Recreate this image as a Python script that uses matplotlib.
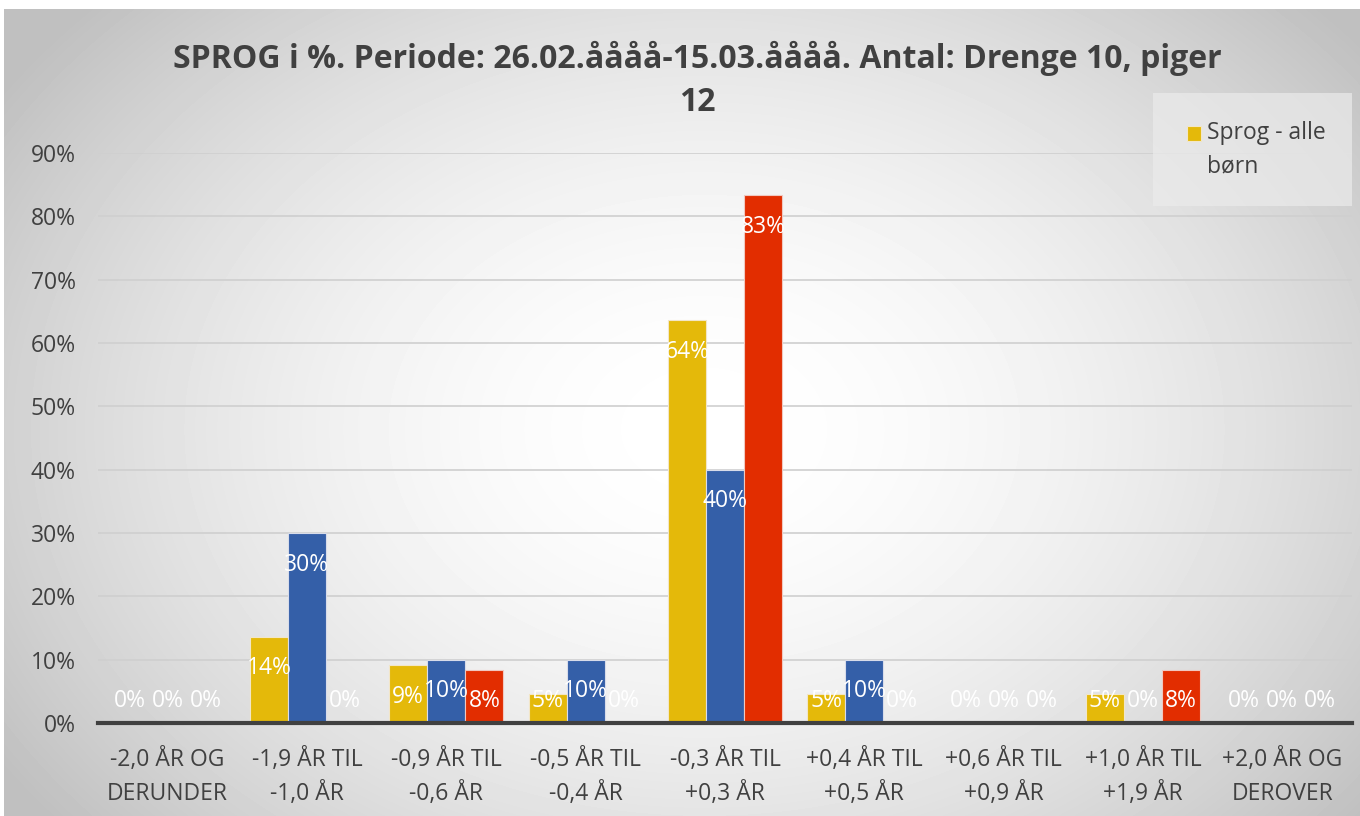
import numpy as np
import matplotlib.pyplot as plt
from matplotlib.patches import Rectangle

plt.rcParams['font.family'] = ['Open Sans', 'DejaVu Sans']

# categories (age deviation groups)
categories = ['-2,0 ÅR OG\nDERUNDER', '-1,9 ÅR TIL\n-1,0 ÅR', '-0,9 ÅR TIL\n-0,6 ÅR',
              '-0,5 ÅR TIL\n-0,4 ÅR', '-0,3 ÅR TIL\n+0,3 ÅR', '+0,4 ÅR TIL\n+0,5 ÅR',
              '+0,6 ÅR TIL\n+0,9 ÅR', '+1,0 ÅR TIL\n+1,9 ÅR', '+2,0 ÅR OG\nDEROVER']
# percent values per series
alle = [0, 13.64, 9.09, 4.55, 63.64, 4.55, 0, 4.55, 0]
drenge = [0, 30, 10, 10, 40, 10, 0, 0, 0]
piger = [0, 0, 8.33, 0, 83.33, 0, 0, 8.33, 0]
yticks = [0, 10, 20, 30, 40, 50, 60, 70, 80, 90]

title = 'SPROG i %. Periode: 26.02.åååå-15.03.åååå. Antal: Drenge 10, piger\n12'
legend_label = 'Sprog - alle\nbørn'

colors = ['#E4B90A', '#345FA8', '#E22D00']
edges = ['#F2E6C8', '#D8DCEA', '#F0C8C0']
textcol = '#404040'
fs = 16.5

fig = plt.figure(figsize=(13.6, 8.16), dpi=100)

# radial gradient background
bg = fig.add_axes([0.003, 0, 0.997, 1 - 9 / 816], zorder=-5)
yy, xx = np.mgrid[0:807, 0:1356]
r = np.sqrt(((xx - 700) / 700.0) ** 2 + ((yy - 420) / 520.0) ** 2)
shade = 1 - 0.25 * np.clip(r / 1.2, 0, 1) ** 1.8
bg.imshow(shade, cmap='gray', vmin=0, vmax=1, aspect='auto')
bg.axis('off')

ax = fig.add_axes([98 / 1360, 1 - 723 / 816, (1352 - 98) / 1360, (723 - 153) / 816])
ax.patch.set_alpha(0)

x = np.arange(len(categories))
w = 0.273
for i, vals in enumerate([alle, drenge, piger]):
    pos = x + (i - 1) * w
    ax.bar(pos, vals, width=w, color=colors[i], edgecolor=edges[i], linewidth=0.8, zorder=3)
    for p, v in zip(pos, vals):
        ax.text(p, max(v - 5.0, 3.5), f'{v:.0f}%', ha='center', va='center',
                color='white', fontsize=fs, zorder=5)

ax.set_xlim(-0.5, len(categories) - 0.5)
ax.set_ylim(0, 90)
ax.set_yticks(yticks)
ax.set_yticklabels([f'{t}%' for t in yticks], fontsize=fs, color=textcol)
ax.set_xticks(x)
ax.set_xticklabels(categories, fontsize=fs, color=textcol, linespacing=1.55)
ax.tick_params(length=0)
ax.tick_params(axis='y', pad=16)
ax.tick_params(axis='x', pad=18)
ax.grid(axis='y', color='#CFCFCF', linewidth=1.2, zorder=0)
for s in ['top', 'right', 'left']:
    ax.spines[s].set_visible(False)
ax.spines['bottom'].set_color('#404040')
ax.spines['bottom'].set_linewidth(3)
ax.spines['bottom'].set_zorder(4)

fig.text(0.513, 1 - 41 / 816, title, ha='center', va='top', fontsize=23, fontweight='bold',
         color=textcol, linespacing=1.4)

# legend box (semi-transparent, as in the original)
fig.add_artist(Rectangle((1153 / 1360, 1 - 206 / 816), 199 / 1360, 113 / 816,
                         transform=fig.transFigure, facecolor='#EBEBEB', alpha=0.7,
                         edgecolor='none', zorder=6))
fig.add_artist(Rectangle((1187 / 1360, 1 - 141 / 816), 14 / 1360, 15 / 816,
                         transform=fig.transFigure, facecolor=colors[0],
                         edgecolor=edges[0], linewidth=0.8, zorder=7))
fig.text(1207 / 1360, 1 - 121 / 816, legend_label, ha='left', va='top', fontsize=fs,
         color=textcol, linespacing=1.55, zorder=7)

fig.savefig('out.png', dpi=100)
